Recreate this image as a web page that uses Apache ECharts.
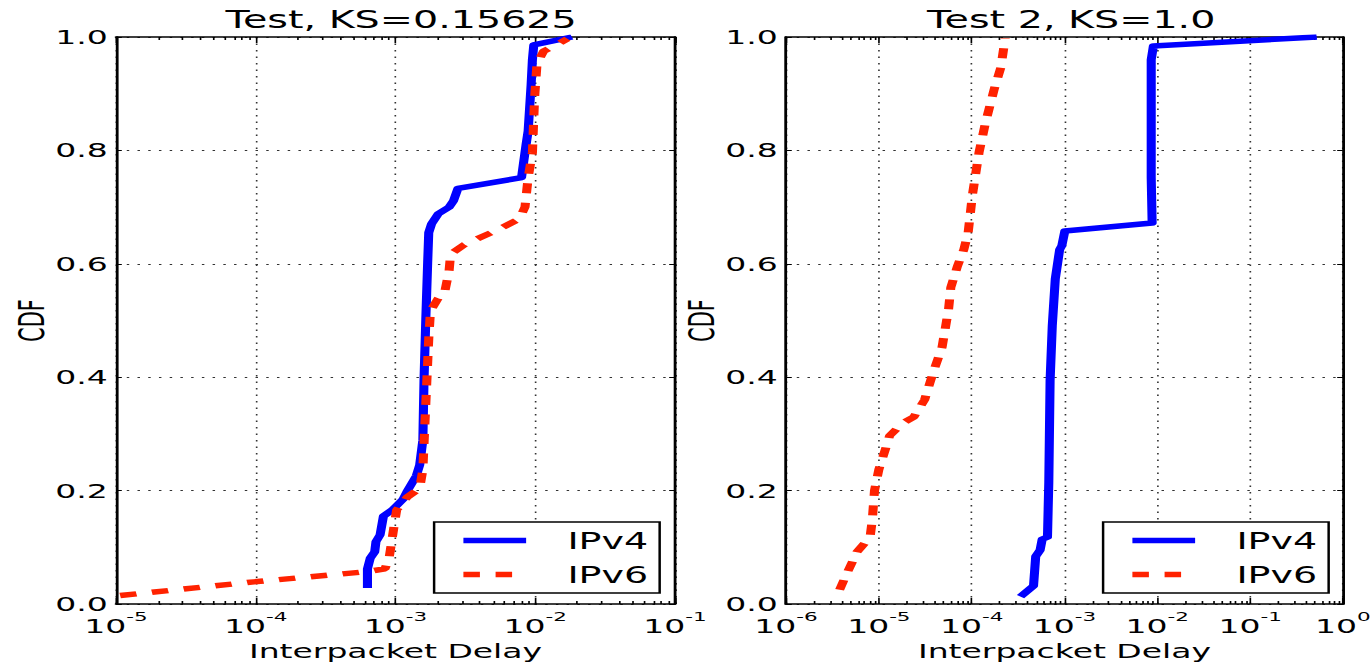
<!DOCTYPE html>
<html>
<head>
<meta charset="utf-8">
<title>Interpacket Delay CDF</title>
<script src="https://cdn.jsdelivr.net/npm/echarts@6/dist/echarts.min.js"></script>
<style>
  html, body { margin: 0; padding: 0; background: #fff; overflow: hidden; }
  /* the original figure is stretched sideways, so draw narrow and widen it */
  #chart { width: 830px; height: 665px; transform: scaleX(1.6506); transform-origin: 0 0; }
</style>
</head>
<body>
<div id="chart"></div>
<script>
const FONT = 'DejaVu Sans';

const titles = ['Test, KS=0.15625', 'Test 2, KS=1.0'];
const seriesNames = ['IPv4', 'IPv6'];
const test1Decades = [-5, -4, -3, -2, -1];
const test2Decades = [-6, -5, -4, -3, -2, -1, 0];

// [delay (s), cdf]
const test1Ipv4 = [
  [6.3e-4, 0.028], [6.3e-4, 0.062], [6.6e-4, 0.081], [7.1e-4, 0.092], [7.25e-4, 0.11],
  [7.76e-4, 0.122], [8.2e-4, 0.155], [9.5e-4, 0.166], [1.135e-3, 0.185], [1.22e-3, 0.2],
  [1.41e-3, 0.226], [1.49e-3, 0.245], [1.57e-3, 0.289], [1.6e-3, 0.394], [1.65e-3, 0.506],
  [1.7e-3, 0.603], [1.73e-3, 0.655], [1.81e-3, 0.67], [2.02e-3, 0.688], [2.42e-3, 0.7],
  [2.6e-3, 0.711], [2.8e-3, 0.733], [7.98e-3, 0.752], [8.6e-3, 0.81], [8.9e-3, 0.834],
  [9.35e-3, 0.916], [9.55e-3, 0.96], [9.77e-3, 0.986], [1.83e-2, 1.0]
];
const test1Ipv6 = [
  [1.07e-5, 0.015], [9.7e-5, 0.039], [6.2e-4, 0.057], [8.4e-4, 0.062], [9.0e-4, 0.081],
  [9.3e-4, 0.103], [9.8e-4, 0.14], [1.02e-3, 0.166], [1.22e-3, 0.189], [1.49e-3, 0.204],
  [1.57e-3, 0.237], [1.65e-3, 0.356], [1.73e-3, 0.468], [1.78e-3, 0.517], [2.02e-3, 0.539],
  [2.25e-3, 0.55], [2.42e-3, 0.588], [2.48e-3, 0.617], [3.12e-3, 0.634], [5.17e-3, 0.658],
  [7.7e-3, 0.679], [8.45e-3, 0.7], [8.9e-3, 0.752], [9.55e-3, 0.796], [9.9e-3, 0.893],
  [1.03e-2, 0.953], [1.15e-2, 0.975], [1.42e-2, 0.986], [1.7e-2, 0.997]
];
const test2Ipv4 = [
  [3.36e-4, 0.013], [4.64e-4, 0.032], [4.9e-4, 0.084], [5.46e-4, 0.095], [5.75e-4, 0.114],
  [6.56e-4, 0.118], [6.78e-4, 0.215], [7.0e-4, 0.394], [7.39e-4, 0.491], [7.96e-4, 0.573],
  [8.87e-4, 0.625], [9.37e-4, 0.632], [1.01e-3, 0.658], [8.8e-3, 0.672], [8.6e-3, 0.752],
  [8.6e-3, 0.96], [9.08e-3, 0.984], [0.522, 1.0]
];
const test2Ipv6 = [
  [3.78e-6, 0.025], [4.44e-6, 0.051], [5.82e-6, 0.092], [8.05e-6, 0.118], [8.5e-6, 0.148],
  [8.98e-6, 0.2], [1.0e-5, 0.237], [1.11e-5, 0.26], [1.31e-5, 0.297], [1.81e-5, 0.319],
  [2.38e-5, 0.33], [3.11e-5, 0.36], [3.86e-5, 0.409], [4.8e-5, 0.453], [5.64e-5, 0.52],
  [5.96e-5, 0.558], [7.0e-5, 0.595], [8.23e-5, 0.625], [9.17e-5, 0.655], [1.02e-4, 0.722],
  [1.2e-4, 0.796], [1.41e-4, 0.849], [1.75e-4, 0.908], [2.06e-4, 0.946], [2.3e-4, 0.998]
];

const grids = [
  { left: 70.3, top: 37, width: 338.6, height: 567, outerBoundsMode: 'none' },
  { left: 476.2, top: 37, width: 337.4, height: 567, outerBoundsMode: 'none' }
];

function minorTicks(decades) {
  const out = [];
  for (let i = 0; i < decades.length - 1; i++) {
    for (let k = 2; k <= 9; k++) out.push(k * Math.pow(10, decades[i]));
  }
  return out;
}

const black = { color: '#000', width: 1.7 };
const dotted = { color: '#333', width: 1, type: [1.5, 5] };

function xAxes(gi, decades) {
  const base = {
    gridIndex: gi,
    type: 'log',
    logBase: 10,
    min: Math.pow(10, decades[0]),
    max: Math.pow(10, decades[decades.length - 1]),
    splitNumber: decades.length - 1
  };
  const minor = minorTicks(decades);
  return [
    Object.assign({}, base, {
      position: 'bottom',
      axisLine: { show: true, onZero: false, lineStyle: black },
      axisTick: { show: true, inside: true, length: 6, lineStyle: { color: '#000', width: 1 } },
      axisLabel: {
        margin: 6,
        showMinLabel: true,
        showMaxLabel: true,
        formatter: function (v) {
          return '{b|10}{s|' + Math.round(Math.log10(v)) + '}';
        },
        rich: {
          b: { fontSize: 20, fontFamily: FONT, color: '#000', lineHeight: 26, verticalAlign: 'bottom' },
          s: { fontSize: 13, fontFamily: FONT, color: '#000', lineHeight: 26, verticalAlign: 'top' }
        }
      },
      splitLine: { show: true, lineStyle: dotted },
      name: 'Interpacket Delay',
      nameLocation: 'middle',
      nameGap: 34,
      nameTextStyle: { fontSize: 20, fontFamily: FONT, color: '#000' }
    }),
    Object.assign({}, base, {
      position: 'top',
      axisLine: { show: true, onZero: false, lineStyle: black },
      axisTick: { show: true, inside: true, length: 6, lineStyle: { color: '#000', width: 1 } },
      axisLabel: { show: false },
      splitLine: { show: false }
    }),
    Object.assign({}, base, {
      position: 'bottom',
      axisLine: { show: false, onZero: false },
      axisTick: { show: true, inside: true, length: 3, customValues: minor, lineStyle: { color: '#000', width: 1 } },
      axisLabel: { show: false },
      splitLine: { show: false }
    }),
    Object.assign({}, base, {
      position: 'top',
      axisLine: { show: false, onZero: false },
      axisTick: { show: true, inside: true, length: 3, customValues: minor, lineStyle: { color: '#000', width: 1 } },
      axisLabel: { show: false },
      splitLine: { show: false }
    })
  ];
}

function yAxes(gi) {
  const base = { gridIndex: gi, type: 'value', min: 0, max: 1, interval: 0.2 };
  return [
    Object.assign({}, base, {
      position: 'left',
      axisLine: { show: true, onZero: false, lineStyle: black },
      axisTick: { show: true, inside: true, length: 3.5, lineStyle: { color: '#000', width: 1 } },
      axisLabel: {
        margin: 5,
        fontSize: 20,
        fontFamily: FONT,
        color: '#000',
        formatter: function (v) { return v.toFixed(1); }
      },
      splitLine: { show: true, lineStyle: dotted },
      name: 'CDF',
      nameLocation: 'middle',
      nameGap: 40,
      nameTextStyle: { fontSize: 21, fontFamily: FONT, color: '#000' }
    }),
    Object.assign({}, base, {
      position: 'right',
      axisLine: { show: true, onZero: false, lineStyle: black },
      axisTick: { show: true, inside: true, length: 3.5, lineStyle: { color: '#000', width: 1 } },
      axisLabel: { show: false },
      splitLine: { show: false }
    })
  ];
}

function lineSeries(gi, name, data) {
  const isV4 = name === 'IPv4';
  return {
    name: name,
    type: 'line',
    xAxisIndex: gi * 4,
    yAxisIndex: gi * 2,
    data: data,
    symbol: 'none',
    z: isV4 ? 2 : 3,
    itemStyle: { color: isV4 ? '#0000ff' : '#ff2200' },
    lineStyle: isV4
      ? { color: '#0000ff', width: 5.5, join: 'round' }
      : { color: '#ff2200', width: 5.5, type: [10, 9.5], cap: 'butt' }
  };
}

function legendAt(left) {
  return {
    orient: 'vertical',
    left: left,
    top: 522,
    padding: [7, 7, 7, 15],
    itemGap: 11,
    itemWidth: 38,
    itemHeight: 14,
    borderColor: '#000',
    borderWidth: 1.5,
    borderRadius: 0,
    backgroundColor: '#fff',
    selectedMode: false,
    data: seriesNames,
    itemStyle: { opacity: 0, borderWidth: 0 },
    lineStyle: { width: 5.5 },
    textStyle: { fontSize: 23, fontFamily: FONT, color: '#000', padding: [0, 0, 0, 20] }
  };
}

const chart = echarts.init(document.getElementById('chart'), null, { renderer: 'svg' });

chart.setOption({
  animation: false,
  backgroundColor: '#fff',
  title: [
    { text: titles[0], left: 243, top: 8, textAlign: 'center', padding: 0,
      textStyle: { fontSize: 24, fontWeight: 'normal', fontFamily: FONT, color: '#000' } },
    { text: titles[1], left: 649, top: 8, textAlign: 'center', padding: 0,
      textStyle: { fontSize: 24, fontWeight: 'normal', fontFamily: FONT, color: '#000' } }
  ],
  legend: [legendAt(263), legendAt(668.3)],
  grid: grids,
  xAxis: xAxes(0, test1Decades).concat(xAxes(1, test2Decades)),
  yAxis: yAxes(0).concat(yAxes(1)),
  series: [
    lineSeries(0, seriesNames[0], test1Ipv4),
    lineSeries(0, seriesNames[1], test1Ipv6),
    lineSeries(1, seriesNames[0], test2Ipv4),
    lineSeries(1, seriesNames[1], test2Ipv6)
  ]
});
</script>
</body>
</html>
